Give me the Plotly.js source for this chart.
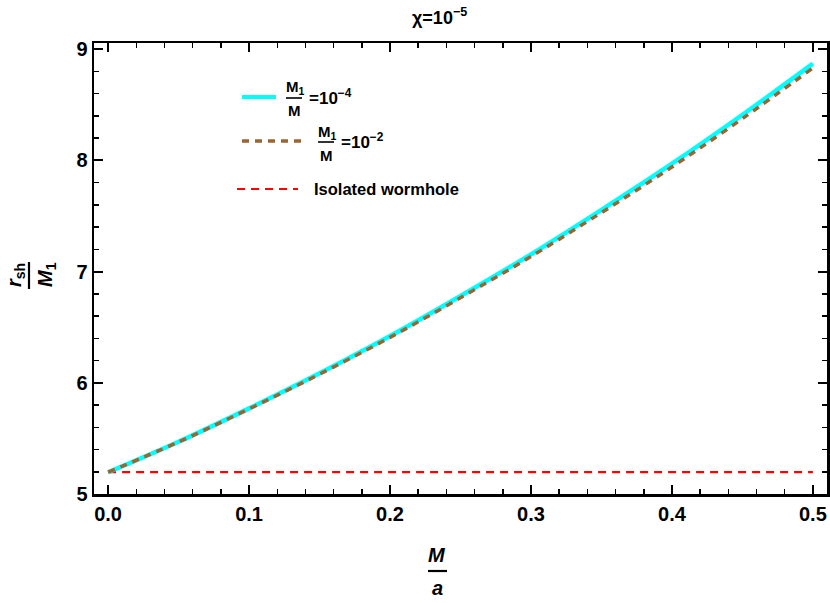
<!DOCTYPE html>
<html>
<head>
<meta charset="utf-8">
<script src="https://cdn.plot.ly/plotly-3.0.1.min.js"></script>
<style>
  html, body { margin: 0; padding: 0; background: #fff; }
  #fig { width: 830px; height: 603px; }
</style>
</head>
<body>
<div id="fig"></div>
<script>
// M/a values and shadow radius r_sh/M1
var xVals = [0.0, 0.05, 0.1, 0.15, 0.2, 0.25, 0.3, 0.35, 0.4, 0.45, 0.5];
var rShA = [5.196, 5.47, 5.77, 6.085, 6.42, 6.78, 7.155, 7.555, 7.97, 8.41, 8.87];   // M1/M = 1e-4
var rShB = [5.196, 5.468, 5.765, 6.077, 6.408, 6.764, 7.135, 7.53, 7.94, 8.375, 8.83]; // M1/M = 1e-2
var wormX = [0.0, 0.5];
var wormY = [5.196, 5.196];   // isolated wormhole

var xTicks = [0.0, 0.1, 0.2, 0.3, 0.4, 0.5];
var xTickText = ['0.0', '0.1', '0.2', '0.3', '0.4', '0.5'];
var yTicks = [5, 6, 7, 8, 9];

var FONT = 'Liberation Sans, Arial, sans-serif';

var traceWorm = {
  x: wormX, y: wormY, mode: 'lines', type: 'scatter',
  line: {color: '#ff0000', width: 2.2, dash: '8px,6px'},
  name: 'Isolated wormhole', hoverinfo: 'none'
};
var traceA = {
  x: xVals, y: rShA, mode: 'lines', type: 'scatter', line: {color: '#00ffff', width: 4.5, shape: 'spline'},
  name: 'M1/M=1e-4', hoverinfo: 'none'
};
var traceB = {
  x: xVals, y: rShB, mode: 'lines', type: 'scatter',
  line: {color: '#996633', width: 3.5, dash: '7px,6px', shape: 'spline'},
  name: 'M1/M=1e-2', hoverinfo: 'none'
};

// legend drawn by hand so the fractions can stack
function lx(px) { return (px - 94) / 733; }
function ly(py) { return (494 - py) / 451; }

var shapes = [
  {type: 'line', xref: 'paper', yref: 'paper', x0: lx(242), x1: lx(276), y0: ly(97), y1: ly(97), line: {color: '#00ffff', width: 4}},
  {type: 'line', xref: 'paper', yref: 'paper', x0: lx(286), x1: lx(302), y0: ly(98), y1: ly(98), line: {color: '#000', width: 1.6}},
  {type: 'line', xref: 'paper', yref: 'paper', x0: lx(242), x1: lx(302), y0: ly(141), y1: ly(141), line: {color: '#996633', width: 3.5, dash: '7px,6px'}},
  {type: 'line', xref: 'paper', yref: 'paper', x0: lx(318), x1: lx(334), y0: ly(142), y1: ly(142), line: {color: '#000', width: 1.6}},
  {type: 'line', xref: 'paper', yref: 'paper', x0: lx(237), x1: lx(298), y0: ly(189), y1: ly(189), line: {color: '#ff0000', width: 2.2, dash: '8px,6px'}},
  // x-axis title bar
  {type: 'line', xref: 'paper', yref: 'paper', x0: lx(428), x1: lx(447), y0: ly(571), y1: ly(571), line: {color: '#000', width: 2.2}},
  // y-axis title bar
  {type: 'line', xref: 'paper', yref: 'paper', x0: lx(29), x1: lx(29), y0: ly(289), y1: ly(262), line: {color: '#000', width: 2.2}}
];

function ann(text, px, py, size, extra) {
  var a = {text: '<b>' + text + '</b>', xref: 'paper', yref: 'paper', x: lx(px), y: ly(py), showarrow: false,
    xanchor: 'center', yanchor: 'middle', font: {family: FONT, size: size, color: '#000'}};
  for (var k in extra) a[k] = extra[k];
  return a;
}

var annotations = [
  // plot label
  ann('\u03c7=10<sup>\u22125</sup>', 439, 16, 18),
  ann('M<sub>1</sub>', 295, 88, 15),
  ann('M', 294, 111, 15),
  ann('=10<sup>\u22124</sup>', 307, 97, 17, {xanchor: 'left'}),
  ann('M<sub>1</sub>', 327, 132, 15),
  ann('M', 326, 155, 15),
  ann('=10<sup>\u22122</sup>', 339, 141, 17, {xanchor: 'left'}),
  ann('Isolated wormhole', 312, 189, 16.5, {xanchor: 'left'}),
  // x-axis title
  ann('<i>M</i>', 437, 555, 20),
  ann('<i>a</i>', 437, 588, 20),
  // y-axis title, rotated
  ann('<i>r</i><sub>sh</sub>', 15, 275, 20, {textangle: -90}),
  ann('<i>M</i><sub>1</sub>', 46, 275, 20, {textangle: -90})
];

var layout = {
  width: 830, height: 603,
  margin: {l: 94, r: 3, t: 43, b: 109},
  paper_bgcolor: '#fff', plot_bgcolor: '#fff',
  showlegend: false,
  xaxis: {
    range: [-0.01, 0.51], showgrid: false, zeroline: false,
    showline: true, linecolor: '#000', linewidth: 2.5, mirror: 'allticks',
    ticks: 'inside', ticklen: 9, tickwidth: 2, tickcolor: '#000',
    tickvals: xTicks, ticktext: xTickText,
    tickfont: {family: FONT, size: 20, color: '#000', weight: 'bold'},
    minor: {ticks: 'inside', dtick: 0.02, tick0: 0, ticklen: 5, tickwidth: 1.5, tickcolor: '#000', showgrid: false}
  },
  yaxis: {
    range: [5, 9.055], showgrid: false, zeroline: false,
    showline: true, linecolor: '#000', linewidth: 2.5, mirror: 'allticks',
    ticks: 'inside', ticklen: 9, tickwidth: 2, tickcolor: '#000',
    tickvals: yTicks,
    tickfont: {family: FONT, size: 20, color: '#000', weight: 'bold'},
    minor: {ticks: 'inside', dtick: 0.2, tick0: 5, ticklen: 5, tickwidth: 1.5, tickcolor: '#000', showgrid: false}
  },
  shapes: shapes,
  annotations: annotations
};

Plotly.newPlot('fig', [traceWorm, traceA, traceB], layout, {displayModeBar: false, staticPlot: true});
</script>
</body>
</html>
